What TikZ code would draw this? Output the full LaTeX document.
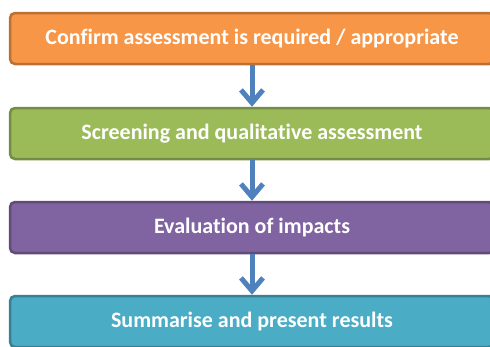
\documentclass[tikz,border=0pt]{standalone}
\usepackage{fontspec}
\setmainfont{Carlito}[Ligatures=NoCommon]
\usepackage{tikz}
\usetikzlibrary{calc, arrows.meta}
\definecolor{stepone}{HTML}{F79646}
\definecolor{steptwo}{HTML}{9BBB59}
\definecolor{stepthree}{HTML}{8064A2}
\definecolor{stepfour}{HTML}{4BACC6}
\definecolor{flowblue}{HTML}{4F81BD}
\tikzstyle{stage}=[draw, rounded corners=5pt, line width=2.5pt, minimum width=484pt, minimum height=51pt, text=white, font=\fontsize{22}{26}\selectfont\bfseries]
\tikzstyle{flow}=[-{Straight Barb[length=13pt,width=22pt]}, line width=5pt, flowblue]

\begin{document}
\begin{tikzpicture}[node distance=94pt]
      \useasboundingbox (0,0) rectangle (490pt,-346pt);
      \node [stage, fill=stepone, draw=stepone!75!black] (a) at (252pt,-38.5pt) {Confirm assessment is required / appropriate};
      \node [stage, fill=steptwo, draw=steptwo!75!black] (b) [below of=a, node distance=95pt] {Screening and qualitative assessment};
      \node [stage, fill=stepthree, draw=stepthree!75!black] (c) [below of=b] {Evaluation of impacts};
      \node [stage, fill=stepfour, draw=stepfour!75!black] (d) [below of=c] {Summarise and present results};
      \draw [flow] (a) -- (b);
      \draw [flow] (b) -- (c);
      \draw [flow] (c) -- (d);
  \end{tikzpicture}
\end{document}
